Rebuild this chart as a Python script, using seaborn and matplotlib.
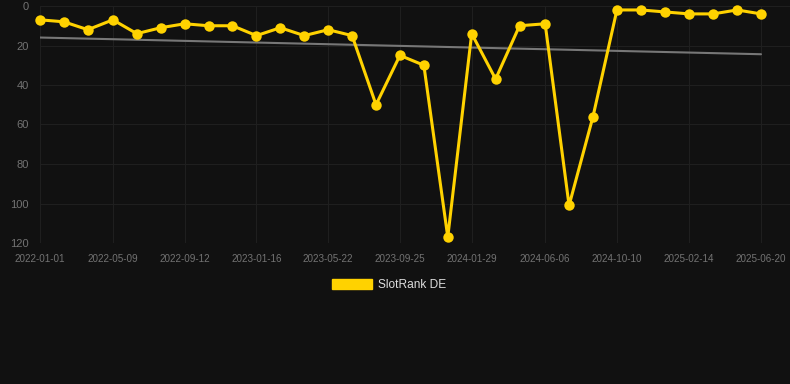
import numpy as np
import pandas as pd
import matplotlib.pyplot as plt
from matplotlib.patches import Patch
import seaborn as sns

# Data (rank: lower = better)
dates = [
    "2022-01-01", "2022-02-12", "2022-03-26", "2022-05-09", "2022-06-20",
    "2022-08-01", "2022-09-12", "2022-10-24", "2022-12-05", "2023-01-16",
    "2023-02-27", "2023-04-10", "2023-05-22", "2023-07-03", "2023-08-14",
    "2023-09-25", "2023-11-06", "2023-12-18", "2024-01-29", "2024-03-11",
    "2024-04-22", "2024-06-06", "2024-07-18", "2024-08-29", "2024-10-10",
    "2024-11-21", "2025-01-02", "2025-02-14", "2025-03-28", "2025-05-09",
    "2025-06-20",
]
ranks = [
    7, 8, 12, 7, 14,
    11, 9, 10, 10, 15,
    11, 15, 12, 15, 50,
    25, 30, 117, 14, 37,
    10, 9, 101, 56, 2,
    2, 3, 4, 4, 2,
    4,
]
tick_labels = [
    "2022-01-01", "2022-05-09", "2022-09-12", "2023-01-16", "2023-05-22",
    "2023-09-25", "2024-01-29", "2024-06-06", "2024-10-10", "2025-02-14",
    "2025-06-20",
]
y_ticks = [0, 20, 40, 60, 80, 100, 120]
series_name = "SlotRank DE"

BG = "#111111"
GOLD = "#FFD200"
GRID = "#1f1f1f"
TICK = "#737373"

sns.set_style("dark")
plt.rcParams["font.family"] = ["Liberation Sans", "DejaVu Sans"]

df = pd.DataFrame({"date": pd.to_datetime(dates), "rank": ranks})

# linear trend over the series
idx = np.arange(len(df))
slope, intercept = np.polyfit(idx, df["rank"], 1)
df["trend"] = intercept + slope * idx

fig = plt.figure(figsize=(7.9, 3.84), dpi=100, facecolor=BG)
ax = fig.add_axes([40 / 790, 1 - 243 / 384, 750 / 790, 237 / 384])
ax.set_facecolor(BG)

sns.lineplot(data=df, x="date", y="trend", color="#777777", lw=1.5, ax=ax)
sns.lineplot(
    data=df, x="date", y="rank", color=GOLD, lw=2.2,
    marker="o", markersize=7.5, markeredgewidth=0, ax=ax, clip_on=False
)

# x range: first point on the left edge, a bit of room on the right
d0 = df["date"].iloc[0]
days_span = (df["date"].iloc[-1] - d0).days
px_per_day = 721 / days_span
ax.set_xlim(d0, d0 + pd.Timedelta(days=750 / px_per_day))
ax.set_ylim(120, 0)

ax.set_xticks(pd.to_datetime(tick_labels))
ax.set_xticklabels(tick_labels)
ax.set_yticks(y_ticks)
ax.set_yticklabels([str(v) for v in y_ticks])

ax.grid(True, color=GRID, lw=0.8)
for s in ax.spines.values():
    s.set_visible(False)
ax.tick_params(axis="x", colors=GRID, labelcolor=TICK, labelsize=7.1,
               length=5, width=0.8, pad=3)
ax.tick_params(axis="y", colors=GRID, labelcolor=TICK, labelsize=8,
               length=7, width=0.8, pad=1)
ax.set_xlabel("")
ax.set_ylabel("")

fig.legend(
    handles=[Patch(facecolor=GOLD, edgecolor=GOLD, label=series_name)],
    loc="center", bbox_to_anchor=(389 / 790, 1 - 285 / 384),
    frameon=False, fontsize=8.6, labelcolor="#dddddd",
    handlelength=3.4, handleheight=0.9, handletextpad=0.5,
)

plt.savefig("out.png", dpi=100, facecolor=BG)
plt.close()
